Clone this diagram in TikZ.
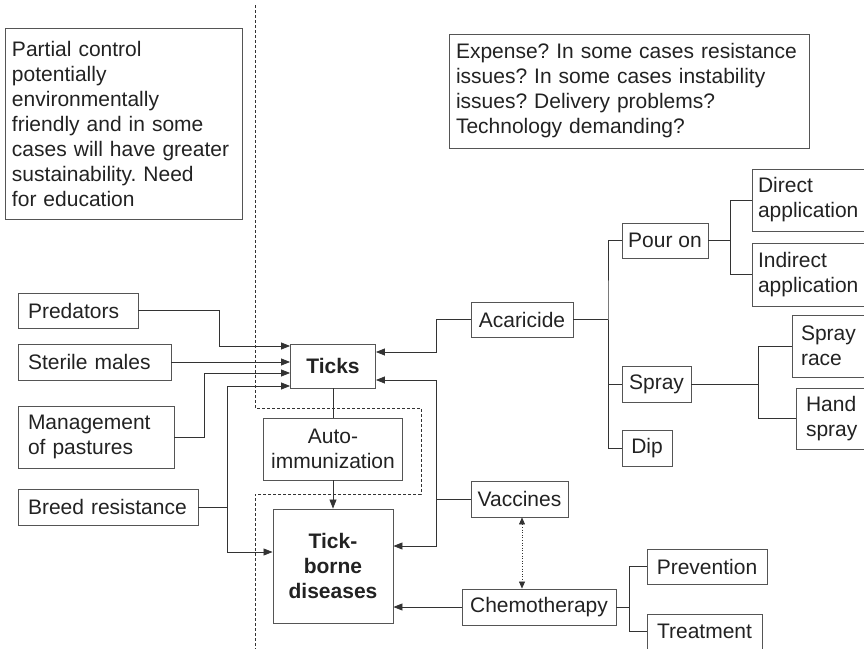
\documentclass[tikz,border=0pt]{standalone}
\usepackage{fontspec}
\setmainfont{Liberation Sans}
\usetikzlibrary{arrows.meta}
\definecolor{inkgray}{HTML}{222222}
\definecolor{boxgray}{HTML}{555555}
\definecolor{linegray}{HTML}{333333}
\frenchspacing
\hyphenpenalty=10000

\begin{document}
\begin{tikzpicture}[x=1pt, y=-1pt, >={Triangle[length=9pt, width=7pt]},
  box/.style={draw=boxgray, line width=0.9pt, text=inkgray, inner sep=0pt,
    font=\fontsize{21}{25}\selectfont, align=center},
  lbox/.style={box, align=left},
  conn/.style={linegray, line width=0.8pt}]

\useasboundingbox (0,0) rectangle (864,648);
\clip (0,0) rectangle (864,648);

% Boundary of the integrated control zone
\draw[linegray, line width=0.6pt, dash pattern=on 3pt off 2pt]
  (255,5) -- (255,408) -- (421,408) -- (421,494) -- (255,494) -- (255,650);

% Notes
\node[lbox, minimum width=237pt, minimum height=191pt, text width=223pt] (natnote) at (123.5,123.5)
  {Partial control\\potentially\\environmentally\\friendly and in some\\cases will have greater\\sustainability. Need\\for education};
\node[lbox, minimum width=360pt, minimum height=114pt, text width=346pt] (technote) at (629,91)
  {Expense? In some cases resistance\\issues? In some cases instability\\issues? Delivery problems?\\Technology demanding?};

% Biological and management measures
\node[lbox, minimum width=120pt, minimum height=35pt, text width=100pt] (pred) at (78,310.5) {Predators};
\node[lbox, minimum width=153pt, minimum height=36pt, text width=133pt] (ster) at (94.5,362) {Sterile males};
\node[lbox, minimum width=156pt, minimum height=62pt, text width=136pt] (mgmt) at (96,437) {Management\\of pastures};
\node[lbox, minimum width=180pt, minimum height=36pt, text width=160pt] (breed) at (108,507) {Breed resistance};

% Central boxes
\node[box, font=\fontsize{21}{25}\selectfont\bfseries, minimum width=85pt, minimum height=44pt] (ticks) at (333,366) {Ticks};
\node[box, minimum width=139pt, minimum height=62pt] (auto) at (333,449) {Auto-\\immunization};
\node[box, font=\fontsize{21}{25}\selectfont\bfseries, minimum width=120pt, minimum height=114pt] (tbd) at (333,566) {Tick-\\borne\\diseases};

% Chemical and veterinary measures
\node[box, minimum width=102pt, minimum height=35pt] (acar) at (522,319.5) {Acaricide};
\node[box, minimum width=86pt, minimum height=35pt] (pour) at (665,240.5) {Pour on};
\node[box, minimum width=69pt, minimum height=36pt] (spray) at (656.5,384) {Spray};
\node[box, minimum width=50pt, minimum height=36pt] (dip) at (647,448) {Dip};
\node[lbox, minimum width=116pt, minimum height=62pt, text width=104pt] (direct) at (810,200) {Direct\\application};
\node[lbox, minimum width=116pt, minimum height=63pt, text width=104pt] (indirect) at (810,274.5) {Indirect\\application};
\node[lbox, minimum width=76pt, minimum height=62pt, text width=58pt] (race) at (830,346) {Spray\\race};
\node[lbox, minimum width=74pt, minimum height=61pt, text width=54pt] (hand) at (833,418.5) {Hand\\spray};
\node[box, minimum width=97pt, minimum height=36pt] (vacc) at (519.5,499) {Vaccines};
\node[box, minimum width=154pt, minimum height=36pt] (chemo) at (539,607) {Chemotherapy};
\node[box, minimum width=120pt, minimum height=35pt] (prev) at (707,566.5) {Prevention};
\node[box, minimum width=115pt, minimum height=35pt] (treat) at (704.5,631.5) {Treatment};

% Arrows into Ticks from the left
\draw[conn, ->] (pred.east) -| (219,346) -- (ticks.west |- 219,346);
\draw[conn, ->] (ster.east) -- (ticks.west |- ster.east);
\draw[conn, ->] (mgmt.east) -| (204,373) -- (ticks.west |- 204,373);
\coordinate (bj) at (227,507);
\draw[conn] (breed.east) -- (bj);
\draw[conn, ->] (bj) |- (ticks.west |- 227,386);
\draw[conn, ->] (bj) |- (tbd.west |- 227,552);

% Auto-immunization chain
\draw[conn] (ticks.south) -- (auto.north);
\draw[conn, ->] (auto.south) -- (tbd.north);

% Arrows from the right
\draw[conn, ->] (acar.west) -| (436,352) -- (ticks.east |- 436,352);
\draw[conn, ->] (vacc.west) -| (436,380) -- (ticks.east |- 436,380);
\draw[conn, ->] (vacc.west) -| (436,546) -- (tbd.east |- 436,546);
\draw[conn, ->] (chemo.west) -- (tbd.east |- chemo.west);
\draw[linegray, line width=0.6pt, dotted,
  {Triangle[length=7pt, width=6pt]}-{Triangle[length=7pt, width=6pt]}]
  ([xshift=2.5pt]vacc.south) -- ([xshift=2.5pt]vacc.south |- chemo.north);

% Acaricide tree
\draw[conn] (acar.east) -- (608,319.5) coordinate (aj);
\draw[conn] (pour.west) -| (aj) |- (dip.west);
\draw[conn] (aj) |- (spray.west);
\draw[conn] (pour.east) -- ++(22,0) coordinate (pj);
\draw[conn] (direct.west) -| (pj) |- (indirect.west);
\draw[conn] (spray.east) -- ++(67,0) coordinate (sj);
\draw[conn] (race.west) -| (sj) |- (hand.west);

% Chemotherapy tree
\draw[conn] (chemo.east) -- ++(13,0) coordinate (cj);
\draw[conn] (prev.west) -| (cj) |- (treat.west);

\end{tikzpicture}
\end{document}
